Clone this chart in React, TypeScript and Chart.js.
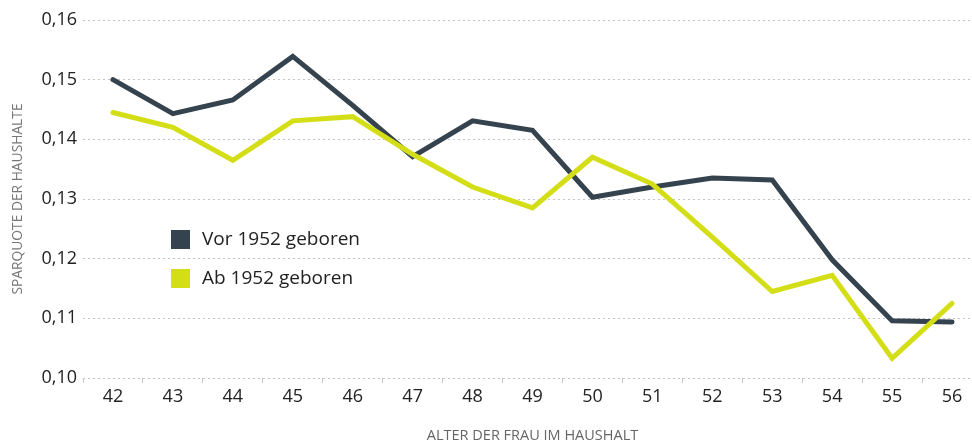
import { useEffect, useRef } from 'react';
import { Chart, registerables } from 'chart.js';

Chart.register(...registerables);

const ages = ['42', '43', '44', '45', '46', '47', '48', '49', '50', '51', '52', '53', '54', '55', '56'];
const vor1952 = [0.15, 0.1443, 0.1466, 0.1539, 0.1457, 0.1371, 0.1431, 0.1415, 0.1303, 0.132, 0.1335, 0.1332, 0.1198, 0.1096, 0.1094];
const ab1952 = [0.1445, 0.142, 0.1365, 0.1431, 0.1438, 0.1375, 0.132, 0.1285, 0.137, 0.1325, 0.1236, 0.1145, 0.1172, 0.1033, 0.1125];
const seriesNames = ['Vor 1952 geboren', 'Ab 1952 geboren'];
const yTickValues = [0.1, 0.11, 0.12, 0.13, 0.14, 0.15, 0.16];
const yTickLabels = ['0,10', '0,11', '0,12', '0,13', '0,14', '0,15', '0,16'];
const yTitle = 'SPARQUOTE DER HAUSHALTE';
const xTitle = 'ALTER DER FRAU IM HAUSHALT';

const DARK = '#35434e';
const YELLOW = '#d4de17';
const FONT = '"Open Sans", "Noto Sans", sans-serif';

const legendPlugin = {
  id: 'inlineLegend',
  afterDraw(chart: any) {
    const ctx = chart.ctx;
    ctx.save();
    ctx.font = `19px ${FONT}`;
    ctx.textBaseline = 'middle';
    ctx.textAlign = 'left';
    chart.data.datasets.forEach((ds: any, i: number) => {
      const y = 230 + i * 39;
      ctx.fillStyle = ds.borderColor;
      ctx.fillRect(171, y, 19, 19);
      ctx.fillStyle = '#222';
      ctx.fillText(ds.label, 202, y + 10);
    });
    ctx.restore();
  },
};

export default function App() {
  const ref = useRef<HTMLCanvasElement | null>(null);

  useEffect(() => {
    if (!ref.current) return;
    const chart = new Chart(ref.current, {
      type: 'line',
      data: {
        labels: ages,
        datasets: [
          {
            label: seriesNames[0],
            data: vor1952,
            borderColor: DARK,
            backgroundColor: DARK,
            borderWidth: 5,
            pointRadius: 0,
            tension: 0,
            borderCapStyle: 'round',
            order: 1,
          },
          {
            label: seriesNames[1],
            data: ab1952,
            borderColor: YELLOW,
            backgroundColor: YELLOW,
            borderWidth: 5,
            pointRadius: 0,
            tension: 0,
            borderCapStyle: 'round',
            order: 0,
          },
        ],
      },
      options: {
        responsive: false,
        animation: false,
        devicePixelRatio: 1,
        layout: { padding: { top: 20, left: 0, right: 0, bottom: 0 } },
        plugins: {
          legend: { display: false },
          tooltip: { enabled: false },
        },
        scales: {
          x: {
            type: 'category',
            offset: true,
            grid: {
              offset: true,
              drawOnChartArea: false,
              drawTicks: true,
              tickLength: 5,
              color: '#c8c8c8',
              lineWidth: 1,
            },
            border: { display: false },
            ticks: {
              color: '#222',
              font: { size: 18, family: FONT },
              padding: 3,
              maxRotation: 0,
            },
            title: {
              display: true,
              text: xTitle,
              color: '#666',
              font: { size: 14.5, family: FONT },
              padding: { top: 0, bottom: 1 },
            },
            afterFit: (scale: any) => {
              scale.height = 68;
            },
          },
          y: {
            min: 0.1,
            max: 0.16,
            afterBuildTicks: (scale: any) => {
              scale.ticks = yTickValues.map((v) => ({ value: v }));
            },
            grid: {
              drawTicks: false,
              color: '#c4c4c4',
              lineWidth: 1,
            },
            border: { display: false, dash: [2, 3] },
            ticks: {
              color: '#222',
              font: { size: 18, family: FONT },
              padding: 6,
              callback: (_v: any, i: number) => yTickLabels[i],
            },
            title: {
              display: true,
              text: yTitle,
              color: '#777',
              font: { size: 13.8, family: FONT },
              padding: { top: 10, bottom: 0 },
            },
            afterFit: (scale: any) => {
              scale.width = 83;
            },
          },
        },
      },
      plugins: [legendPlugin],
    } as any);
    return () => chart.destroy();
  }, []);

  return (
    <div style={{ position: 'fixed', left: 0, top: 0, width: 972, height: 446, overflow: 'hidden', background: '#fff' }}>
      <div style={{ width: 982, height: 446 }}>
        <canvas ref={ref} width={982} height={446} style={{ width: 982, height: 446, display: 'block' }} />
      </div>
    </div>
  );
}
